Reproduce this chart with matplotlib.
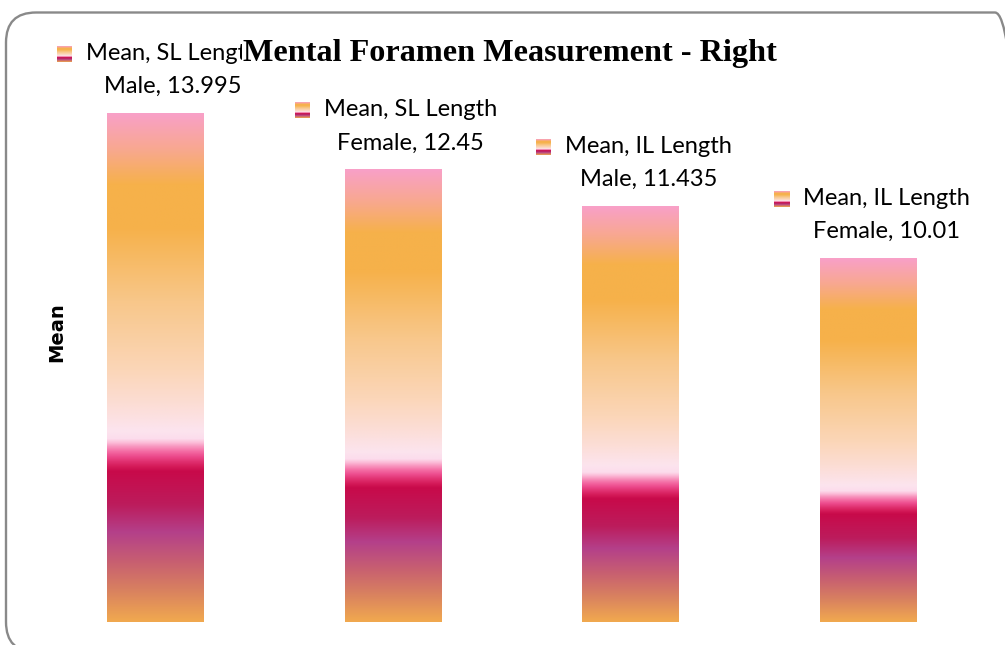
import numpy as np
import matplotlib
matplotlib.use("Agg")
import matplotlib.pyplot as plt
from matplotlib.colors import LinearSegmentedColormap
from matplotlib.patches import FancyBboxPatch

# Data
series = ["Mean, SL Length", "Mean, SL Length", "Mean, IL Length", "Mean, IL Length"]
groups = ["Male", "Female", "Male", "Female"]
values = [13.995, 12.45, 11.435, 10.01]
value_text = ["13.995", "12.45", "11.435", "10.01"]

title = "Mental Foramen Measurement - Right"
ylabel = "Mean"

# Vertical gradient used for each bar (0 = bottom, 1 = top)
grad_stops = [
    (0.000, "#F1A94F"),
    (0.063, "#D88060"),
    (0.116, "#C86070"),
    (0.176, "#B4408A"),
    (0.230, "#BC1C5C"),
    (0.296, "#C80A4A"),
    (0.305, "#D41A58"),
    (0.315, "#E03070"),
    (0.325, "#EC4A8C"),
    (0.335, "#F46CA4"),
    (0.345, "#F898C0"),
    (0.352, "#FCBCD8"),
    (0.360, "#FCDCEC"),
    (0.376, "#FCE4EE"),
    (0.430, "#FCDDD4"),
    (0.495, "#FBD6B8"),
    (0.630, "#F8C78A"),
    (0.775, "#F6B14A"),
    (0.860, "#F6B14A"),
    (0.930, "#F8A890"),
    (1.000, "#F9A0C8"),
]
cmap = LinearSegmentedColormap.from_list("bar_grad", grad_stops, N=512)
grad = np.linspace(0, 1, 512).reshape(-1, 1)

W, H = 1005, 645
fig = plt.figure(figsize=(W / 100, H / 100), dpi=100)
fig.patch.set_facecolor("white")

# Rounded chart-area frame (partly running off the canvas)
frame = FancyBboxPatch((6, H - 652), 1019, 639.5,
                       boxstyle="round,pad=0,rounding_size=30",
                       transform=None, facecolor="none",
                       edgecolor="#898989", linewidth=1.7, zorder=0)
fig.patches.append(frame)

ax = fig.add_axes([36 / W, 23 / H, 951 / W, 581 / H])
ax.set_xlim(-0.5, len(values) - 0.5)
ax.set_ylim(0, 16)
ax.axis("off")

x = np.arange(len(values))
bars = ax.bar(x, values, width=0.404, facecolor="none", edgecolor="none")
for b in bars:
    x0, w, h = b.get_x(), b.get_width(), b.get_height()
    ax.imshow(grad, cmap=cmap, origin="lower", aspect="auto",
              extent=(x0, x0 + w, 0, h), interpolation="bilinear", zorder=2)
ax.set_xlim(-0.5, len(values) - 0.5)
ax.set_ylim(0, 16)

fig.text(57 / W, 313 / H, ylabel, rotation=90, ha="center", va="center",
         fontsize=14, fontweight="bold", family="DejaVu Sans")

label_font = dict(family=["Lato", "DejaVu Sans"], fontsize=17, color="black")
first_lines = []
for i, (s, g, v, vt) in enumerate(zip(series, groups, values, value_text)):
    t1 = ax.annotate(s, xy=(i, v), xytext=(18, 60), textcoords="offset pixels",
                     ha="center", va="center", zorder=5, **label_font)
    ax.annotate(f"{g}, {vt}", xy=(i, v), xytext=(18, 27),
                textcoords="offset pixels", ha="center", va="center",
                zorder=5, **label_font)
    first_lines.append(t1)

fig.text(510 / W, (H - 53) / H, title, ha="center", va="center",
         family="Liberation Serif", fontweight="bold", fontsize=23.2,
         zorder=10,
         bbox=dict(facecolor="white", edgecolor="none", pad=0.5))

# Legend keys beside each data label
fig.canvas.draw()
renderer = fig.canvas.get_renderer()
for t1 in first_lines:
    bb = t1.get_window_extent(renderer)
    kw, kh = 15, 16
    kx = bb.x0 - 14 - kw
    ky = (bb.y0 + bb.y1) / 2 - kh / 2
    kax = fig.add_axes([kx / W, ky / H, kw / W, kh / H])
    kax.imshow(grad, cmap=cmap, origin="lower", aspect="auto",
               extent=(0, 1, 0, 1), interpolation="bilinear")
    kax.axis("off")

fig.savefig("out.png", dpi=100, facecolor="white")
